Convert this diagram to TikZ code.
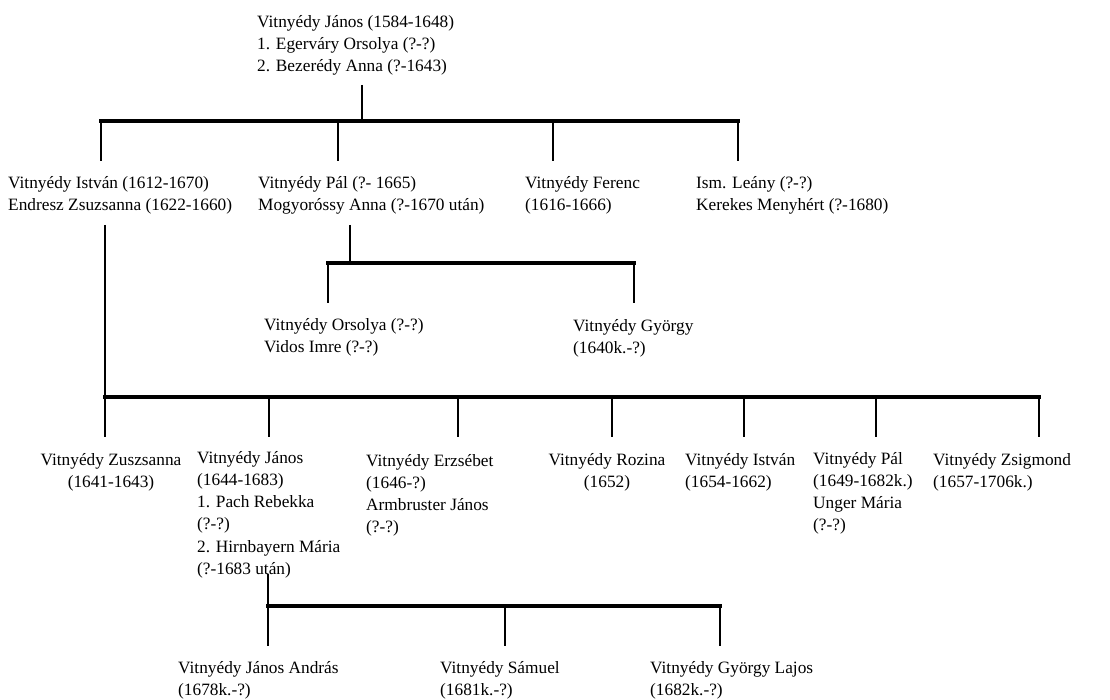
\documentclass[tikz,border=0pt]{standalone}
\usepackage{fontspec}
\setmainfont{Liberation Serif}

\tikzset{
  person/.style={anchor=north west,inner sep=0pt,align=left,font=\fontsize{17.3}{22.2}\selectfont},
  personc/.style={person,anchor=north,align=center},
  bar/.style={line width=3.8pt,line cap=rect},
  drop/.style={line width=2.8pt},
}

\begin{document}
\begin{tikzpicture}[x=1pt,y=1pt,yscale=-1,xscale=1]
\useasboundingbox (0,0) rectangle (1110,700);

% Text Node
\node[person] (janos1) at (257,15) {Vitnyédy János (1584-1648)\\1. Egerváry Orsolya (?-?)\\2. Bezerédy Anna (?-1643)};
% Text Node
\node[person] (istvan1) at (8,176) {Vitnyédy István (1612-1670)\\Endresz Zsuzsanna (1622-1660)};
% Text Node
\node[person] (pal1) at (258,176) {Vitnyédy Pál (?- 1665)\\Mogyoróssy Anna (?-1670 után)};
% Text Node
\node[person] (ferenc) at (525,176) {Vitnyédy Ferenc\\(1616-1666)};
% Text Node
\node[person] (leany) at (696,176) {Ism. Leány (?-?)\\Kerekes Menyhért (?-1680)};
% Text Node
\node[person] (orsolya) at (264,318) {Vitnyédy Orsolya (?-?)\\Vidos Imre (?-?)};
% Text Node
\node[person] (gyorgy) at (573,319) {Vitnyédy György\\(1640k.-?)};
% Text Node
\node[personc] (zsuzsanna) at (111,453) {Vitnyédy Zuszsanna\\(1641-1643)};
% Text Node
\node[person] (janos2) at (197,451) {Vitnyédy János\\(1644-1683)\\1. Pach Rebekka\\(?-?)\\2. Hirnbayern Mária\\(?-1683 után)};
% Text Node
\node[person] (erzsebet) at (366,454) {Vitnyédy Erzsébet\\(1646-?)\\Armbruster János\\(?-?)};
% Text Node
\node[personc] (rozina) at (607,453) {Vitnyédy Rozina\\(1652)};
% Text Node
\node[person] (istvan2) at (685,453) {Vitnyédy István\\(1654-1662)};
% Text Node
\node[person] (pal2) at (813,452) {Vitnyédy Pál\\(1649-1682k.)\\Unger Mária\\(?-?)};
% Text Node
\node[person] (zsigmond) at (933,453) {Vitnyédy Zsigmond\\(1657-1706k.)};
% Text Node
\node[person] (andras) at (178,661) {Vitnyédy János András\\(1678k.-?)};
% Text Node
\node[person] (samuel) at (440,661) {Vitnyédy Sámuel\\(1681k.-?)};
% Text Node
\node[person] (lajos) at (650,661) {Vitnyédy György Lajos\\(1682k.-?)};

% junctions
\coordinate (j1) at (362,85);
\coordinate (j2) at (350,225);
\coordinate (j3) at (105,225);
\coordinate (j4) at (268,574);

%Straight Lines
\draw[drop] (j1) -- ++(0,36);
\draw[bar] (101,121) -- (738,121);
\foreach \x in {101,338,553,738}
  \draw[drop] (\x,121) -- ++(0,40);

%Straight Lines
\draw[drop] (j2) -- ++(0,38);
\draw[bar] (328,263) -- (634,263);
\foreach \x in {328,634}
  \draw[drop] (\x,263) -- ++(0,40);

%Straight Lines
\draw[drop] (j3) -- ++(0,172);
\draw[bar] (105,397) -- (1039,397);
\foreach \x in {105,269,458,612,744,876,1039}
  \draw[drop] (\x,397) -- ++(0,40);

%Straight Lines
\draw[drop] (j4) -- ++(0,32);
\draw[bar] (268,606) -- (720,606);
\foreach \x in {268,505,720}
  \draw[drop] (\x,606) -- ++(0,40);

\end{tikzpicture}
\end{document}
